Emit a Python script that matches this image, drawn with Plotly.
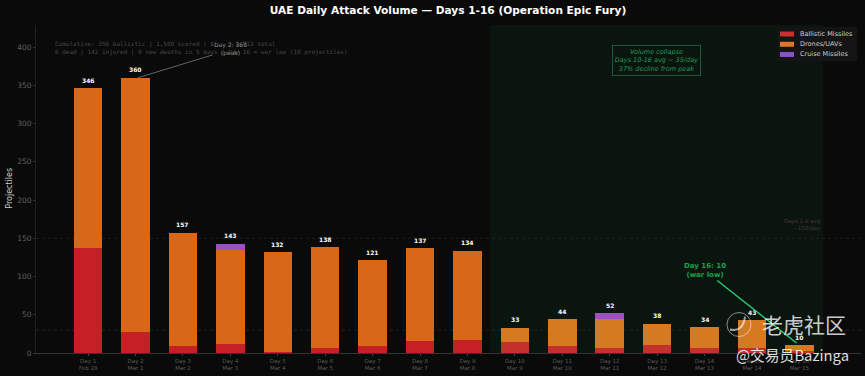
import plotly.graph_objects as go

day_labels = ["Day 1<br>Feb 28", "Day 2<br>Mar 1", "Day 3<br>Mar 2", "Day 4<br>Mar 3", "Day 5<br>Mar 4",
              "Day 6<br>Mar 5", "Day 7<br>Mar 6", "Day 8<br>Mar 7", "Day 9<br>Mar 8", "Day 10<br>Mar 9",
              "Day 11<br>Mar 10", "Day 12<br>Mar 11", "Day 13<br>Mar 12", "Day 14<br>Mar 13",
              "Day 15<br>Mar 14", "Day 16<br>Mar 15"]
positions = list(range(16))
ballistic = [137, 28, 9, 12, 1, 7, 9, 16, 17, 15, 9, 6, 10, 7, 7, 3]
drones = [209, 332, 148, 123, 131, 131, 112, 121, 117, 18, 35, 39, 28, 27, 36, 7]
cruise = [0, 0, 0, 8, 0, 0, 0, 0, 0, 0, 0, 7, 0, 0, 0, 0]
totals = [346, 360, 157, 143, 132, 138, 121, 137, 134, 33, 44, 52, 38, 34, 43, 10]
total_text = ["346", "360", "157", "143", "132", "138", "121", "137", "134", "33", "44", "52", "38", "34", "43", "10"]
ballistic_colors = ["#c42026"] * 9 + ["#c4302b"] * 7
drone_colors = ["#d86818"] * 9 + ["#d67a22"] * 7
legend_names = ["Ballistic Missiles", "Drones/UAVs", "Cruise Missiles"]
legend_colors = ["#c9302f", "#d97a24", "#8a52c8"]

W, H = 865, 376
L, R, T, B = 36, 4, 25, 22.5
def px(x):
    return (x - L) / (W - L - R)
def py(y):
    return (H - B - y) / (H - T - B)

fig = go.Figure()
fig.add_bar(x=positions, y=ballistic, name=legend_names[0], marker=dict(color=ballistic_colors, line_width=0), width=0.6)
fig.add_bar(x=positions, y=drones, name=legend_names[1], marker=dict(color=drone_colors, line_width=0), width=0.6)
fig.add_bar(x=positions, y=cruise, name=legend_names[2], marker=dict(color="#9b4fc4", line_width=0), width=0.6)

for p, v, t in zip(positions, totals, total_text):
    fig.add_annotation(x=p, y=v, yshift=8, text=f"<b>{t}</b>", showarrow=False, yanchor="middle",
                       font=dict(color="white", size=6, family="DejaVu Sans"))

fig.add_shape(type="rect", x0=8.48, x1=15.5, y0=0, y1=1, yref="paper", fillcolor="#0b150f",
              line_width=0, layer="below")
for v, c in [(150, "#2e2424"), (30, "#2c2f28")]:
    fig.add_hline(y=v, line=dict(color=c, width=0.7, dash="dot"), layer="below")

note_font = dict(color="#484848", size=6, family="DejaVu Sans Mono")
fig.add_annotation(x=-0.74, y=399, xanchor="left", yanchor="middle", showarrow=False, align="left",
                   text="Cumulative: 356 ballistic | 1,500 scored | $[...] 1,913 total<br>"
                        "6 dead | 142 injured | 0 new deaths in 5 days | Day 16 = war low (10 projectiles)",
                   font=note_font)
fig.add_annotation(x=1.05, y=360, ax=3.0, ay=397, xref="x", yref="y", axref="x", ayref="y",
                   text="Day 2: 360<br>(peak)", showarrow=True, arrowhead=0, arrowcolor="#8a8a8a", arrowwidth=0.7,
                   font=dict(color="#8a8a8a", size=6, family="DejaVu Sans"))
fig.add_annotation(x=11.99, y=383, showarrow=False, borderpad=2, bgcolor="#0b150f", bordercolor="#1f6b3c",
                   borderwidth=0.8, text="<i>Volume collapse<br>Days 10-16 avg ~ 35/day<br>37% decline from peak</i>",
                   font=dict(color="#1f9d55", size=6.5, family="DejaVu Sans"))
fig.add_annotation(x=14.94, y=13, ax=13.0, ay=108, xref="x", yref="y", axref="x", ayref="y",
                   text="<b>Day 16: 10<br>(war low)</b>", showarrow=True, arrowhead=0, arrowcolor="#28d070", arrowwidth=1.4,
                   font=dict(color="#16a34a", size=7, family="DejaVu Sans"))
fig.add_annotation(x=15.5, y=155, xanchor="right", yanchor="bottom", showarrow=False, align="right",
                   text="Days 1-9 avg<br>~150/day", font=dict(color="#453535", size=5.5, family="DejaVu Sans"))

# axis title placed by hand so it sits where the reference has it
fig.add_annotation(xref="paper", yref="paper", x=px(10), y=py(189), xanchor="center", yanchor="middle",
                   showarrow=False, textangle=-90, text="Projectiles",
                   font=dict(color="#cccccc", size=8, family="DejaVu Sans"))

# legend drawn by hand: the reference has wide flat swatches inside a dark box
fig.add_shape(type="rect", xref="paper", yref="paper", x0=px(777), x1=px(857), y0=py(61), y1=py(27),
              fillcolor="#141414", line_width=0)
for name, col, yy in zip(legend_names, legend_colors, [34, 44.3, 54.5]):
    fig.add_shape(type="rect", xref="paper", yref="paper", x0=px(780), x1=px(794), y0=py(yy + 2.5), y1=py(yy - 2.5),
                  fillcolor=col, line_width=0)
    fig.add_annotation(xref="paper", yref="paper", x=px(799), y=py(yy), xanchor="left", yanchor="middle", xshift=-1,
                       showarrow=False, text=name, font=dict(color="#cccccc", size=6.5, family="DejaVu Sans"))

# watermark
fig.add_annotation(xref="paper", yref="paper", x=px(803.5), y=py(324), showarrow=False, xanchor="center", yanchor="middle",
                   text="老虎社区", font=dict(color="rgba(255,255,255,0.8)", size=21, family="Noto Sans CJK SC"))
fig.add_annotation(xref="paper", yref="paper", x=px(792), y=py(355), showarrow=False, xanchor="center", yanchor="middle",
                   text="@交易员Bazinga", font=dict(color="rgba(255,255,255,0.88)", size=14.8, family="Noto Sans CJK SC"))
fig.add_shape(type="circle", xref="paper", yref="paper", x0=px(727), x1=px(751), y0=py(337), y1=py(313),
              line=dict(color="rgba(255,255,255,0.5)", width=1))
fig.add_shape(type="path", xref="paper", yref="paper",
              path=f"M {px(730)} {py(330)} Q {px(743)} {py(333)} {px(745)} {py(317)}",
              line=dict(color="rgba(255,255,255,0.6)", width=2))

fig.update_layout(
    width=W, height=H, barmode="stack", paper_bgcolor="#0a0a0a", plot_bgcolor="#0a0a0a",
    margin=dict(l=L, r=R, t=T, b=B, autoexpand=False),
    title=dict(text="<b>UAE Daily Attack Volume — Days 1-16 (Operation Epic Fury)</b>", x=448 / W, xanchor="center",
               y=1 - 10 / H, yanchor="middle", font=dict(color="white", size=10.6, family="DejaVu Sans")),
    showlegend=False,
    xaxis=dict(range=[-1.1, 16.3], tickvals=positions, ticktext=day_labels, showgrid=False, zeroline=False,
               automargin=False, showline=True, linecolor="#333333", linewidth=1,
               tickfont=dict(color="#5a5a5a", size=5.5, family="DejaVu Sans"),
               ticks="outside", ticklen=2, tickcolor="#444444"),
    yaxis=dict(range=[0, 429], tickvals=[0, 50, 100, 150, 200, 250, 300, 350, 400], showgrid=False, zeroline=False,
               automargin=False, showline=True, linecolor="#222222", linewidth=1,
               tickfont=dict(color="#606060", size=7.5, family="DejaVu Sans"),
               ticks="outside", ticklen=2, tickcolor="#333333"),
)
fig.write_html("out.html", config={"displayModeBar": False},
               post_script="document.body.style.margin='0';document.body.style.background='#0a0a0a';")
